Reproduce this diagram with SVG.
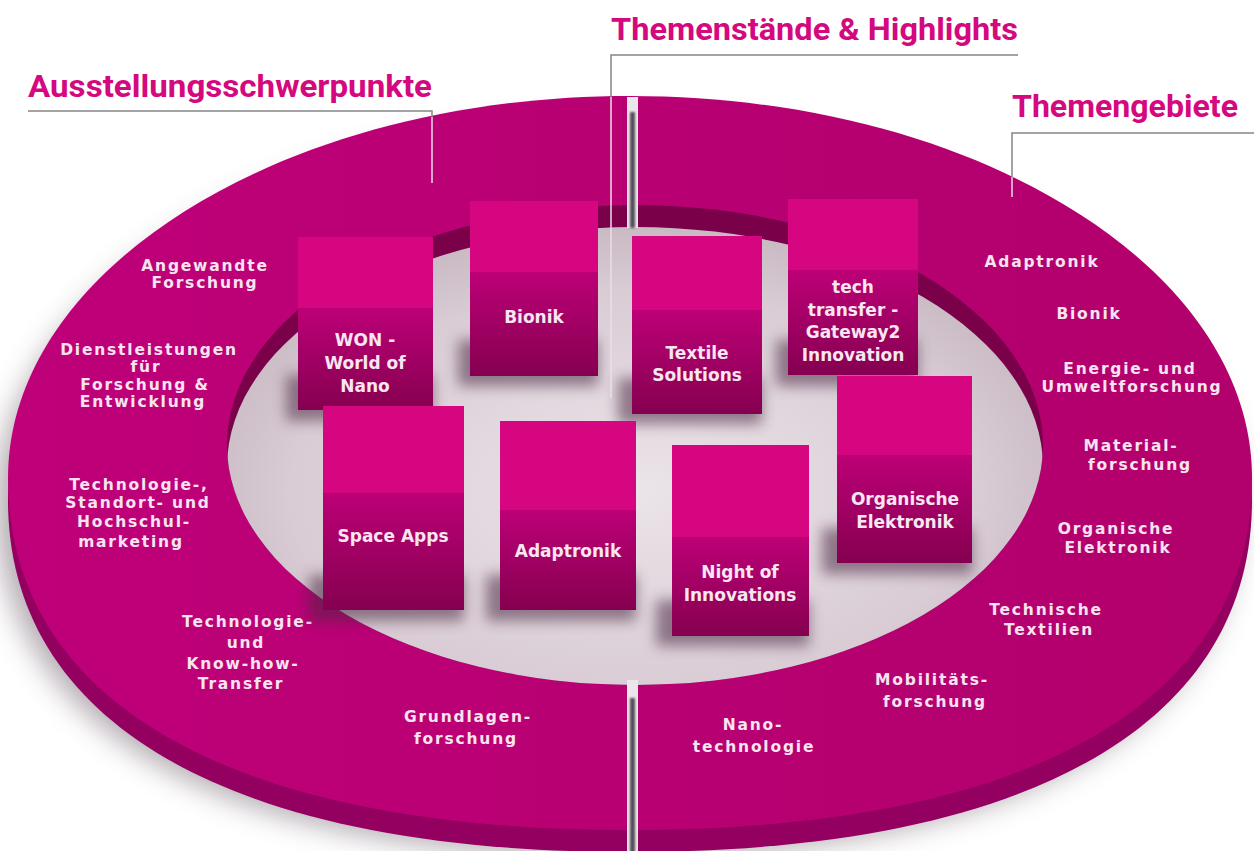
<svg xmlns="http://www.w3.org/2000/svg" width="1254" height="851" viewBox="0 0 1254 851">
<style>
.hd{font-family:Roboto,"DejaVu Sans Condensed","Liberation Sans",sans-serif;font-weight:bold;font-size:32px;fill:#d4087f}
.rl{font-family:"DejaVu Sans","Liberation Sans",sans-serif;font-weight:bold;font-size:15.5px;letter-spacing:1.8px;fill:#f7e4f0;text-anchor:middle}
.cl{font-family:"DejaVu Sans","Liberation Sans",sans-serif;font-weight:bold;font-size:17px;fill:#f8e6f1;text-anchor:middle}
.ct{fill:#d5067f}
.cf{fill:url(#gFront)}
.cs{fill:#4a2540;opacity:0.55;filter:url(#blurS)}
.ld{fill:none;stroke:#858585;stroke-width:1.5}
.ll{fill:none;stroke:#ecdde7;stroke-width:1.5}
.gw{fill:#ebe6ea}
.gd{fill:#55505a;filter:url(#blurT)}
</style>
<defs>
<linearGradient id="gFront" x1="0" y1="0" x2="0" y2="1">
<stop offset="0" stop-color="#bd0077"/>
<stop offset="1" stop-color="#850050"/>
</linearGradient>
<linearGradient id="gRing" x1="0" y1="0" x2="1" y2="0">
<stop offset="0" stop-color="#bf0079"/>
<stop offset="1" stop-color="#b2006c"/>
</linearGradient>
<radialGradient id="gFloor" cx="0.5" cy="0.55" r="0.6">
<stop offset="0" stop-color="#ebe4e9"/>
<stop offset="0.7" stop-color="#d9ccd5"/>
<stop offset="1" stop-color="#c2b2bc"/>
</radialGradient>
<filter id="blurL" x="-20%" y="-20%" width="140%" height="140%"><feGaussianBlur stdDeviation="14"/></filter>
<filter id="blurS" x="-30%" y="-50%" width="160%" height="200%"><feGaussianBlur stdDeviation="7"/></filter>
<filter id="blurT" x="-100%" y="-10%" width="300%" height="120%"><feGaussianBlur stdDeviation="1.2"/></filter>
<clipPath id="holeClip"><ellipse cx="635" cy="445" rx="408" ry="240"/></clipPath>
<path id="ringShape" d="M8 478 C8 267 286.5 96 630 96 C973.5 96 1252 267 1252 478 C1252 703 1028 830 630 830 C232 830 8 703 8 478 Z"/>
</defs>

<rect width="1254" height="851" fill="#ffffff"/>

<g id="ring">
<use href="#ringShape" transform="translate(-12,26)" fill="#6b5a66" opacity="0.5" filter="url(#blurL)"/>
<use href="#ringShape" transform="translate(0,22)" fill="#930060"/>
<use href="#ringShape" fill="url(#gRing)"/>
<ellipse cx="635" cy="445" rx="408" ry="240" fill="#7a004a"/>
<ellipse cx="635" cy="467" rx="408" ry="240" fill="url(#gFloor)" clip-path="url(#holeClip)"/>
<rect class="gw" x="627" y="97" width="11" height="131"/>
<rect class="gd" x="630" y="112" width="5" height="116"/>
<rect class="gw" x="627" y="680" width="11" height="171"/>
<rect class="gd" x="630" y="698" width="5" height="160"/>
</g>

<g id="ring-labels-left">
<text class="rl" x="205" y="271">Angewandte</text>
<text class="rl" x="205" y="288">Forschung</text>
<text class="rl" x="149" y="355">Dienstleistungen</text>
<text class="rl" x="146" y="372">für</text>
<text class="rl" x="145" y="390">Forschung &amp;</text>
<text class="rl" x="143" y="407">Entwicklung</text>
<text class="rl" x="139" y="490">Technologie-,</text>
<text class="rl" x="138" y="508">Standort- und</text>
<text class="rl" x="134" y="527">Hochschul-</text>
<text class="rl" x="131" y="547">marketing</text>
<text class="rl" x="248" y="627">Technologie-</text>
<text class="rl" x="246" y="648">und</text>
<text class="rl" x="243" y="669">Know-how-</text>
<text class="rl" x="241" y="689">Transfer</text>
<text class="rl" x="468" y="722">Grundlagen-</text>
<text class="rl" x="466" y="744">forschung</text>
</g>

<g id="ring-labels-right">
<text class="rl" x="1042" y="267">Adaptronik</text>
<text class="rl" x="1089" y="319">Bionik</text>
<text class="rl" x="1130" y="374">Energie- und</text>
<text class="rl" x="1132" y="392">Umweltforschung</text>
<text class="rl" x="1131" y="451">Material-</text>
<text class="rl" x="1140" y="470">forschung</text>
<text class="rl" x="1116" y="534">Organische</text>
<text class="rl" x="1118" y="553">Elektronik</text>
<text class="rl" x="1046" y="615">Technische</text>
<text class="rl" x="1049" y="635">Textilien</text>
<text class="rl" x="932" y="685">Mobilitäts-</text>
<text class="rl" x="935" y="707">forschung</text>
<text class="rl" x="753" y="730">Nano-</text>
<text class="rl" x="754" y="752">technologie</text>
</g>

<g id="cube-shadows">
<rect class="cs" x="458" y="340" width="140" height="46"/>
<rect class="cs" x="776" y="340" width="142" height="46"/>
<rect class="cs" x="286" y="375" width="147" height="46"/>
<rect class="cs" x="618" y="378" width="144" height="46"/>
<rect class="cs" x="822" y="528" width="150" height="46"/>
<rect class="cs" x="309" y="575" width="155" height="46"/>
<rect class="cs" x="486" y="575" width="150" height="46"/>
<rect class="cs" x="656" y="600" width="153" height="46"/>
</g>

<g id="cube-bionik">
<rect class="ct" x="470" y="201" width="128" height="72"/>
<rect class="cf" x="470" y="272" width="128" height="104"/>
<text class="cl" x="534" y="323">Bionik</text>
</g>
<g id="cube-techtransfer">
<rect class="ct" x="788" y="199" width="130" height="72"/>
<rect class="cf" x="788" y="270" width="130" height="105"/>
<text class="cl" x="853" y="293">tech</text>
<text class="cl" x="853" y="316">transfer -</text>
<text class="cl" x="853" y="338">Gateway2</text>
<text class="cl" x="853" y="361">Innovation</text>
</g>
<g id="cube-won">
<rect class="ct" x="298" y="237" width="135" height="72"/>
<rect class="cf" x="298" y="308" width="135" height="102"/>
<text class="cl" x="365" y="346">WON -</text>
<text class="cl" x="365" y="369">World of</text>
<text class="cl" x="365" y="392">Nano</text>
</g>
<g id="cube-textile">
<rect class="ct" x="632" y="236" width="130" height="75"/>
<rect class="cf" x="632" y="310" width="130" height="104"/>
<text class="cl" x="697" y="359">Textile</text>
<text class="cl" x="697" y="381">Solutions</text>
</g>
<g id="cube-organische">
<rect class="ct" x="837" y="376" width="135" height="80"/>
<rect class="cf" x="837" y="455" width="135" height="108"/>
<text class="cl" x="905" y="505">Organische</text>
<text class="cl" x="905" y="528">Elektronik</text>
</g>
<g id="cube-spaceapps">
<rect class="ct" x="323" y="406" width="141" height="88"/>
<rect class="cf" x="323" y="493" width="141" height="117"/>
<text class="cl" x="393" y="542">Space Apps</text>
</g>
<g id="cube-adaptronik">
<rect class="ct" x="500" y="421" width="136" height="90"/>
<rect class="cf" x="500" y="510" width="136" height="100"/>
<text class="cl" x="568" y="557">Adaptronik</text>
</g>
<g id="cube-night">
<rect class="ct" x="672" y="445" width="137" height="93"/>
<rect class="cf" x="672" y="537" width="137" height="99"/>
<text class="cl" x="740" y="578">Night of</text>
<text class="cl" x="740" y="601">Innovations</text>
</g>

<g id="connectors">
<path class="ld" d="M28 111 H432 V117"/>
<path class="ll" d="M432 117 V183"/>
<path class="ld" d="M1018 55 H611 V97"/>
<path class="ll" d="M611 97 V398"/>
<path class="ld" d="M1254 133 H1012 V177"/>
<path class="ll" d="M1012 177 V197"/>
</g>

<g id="headers">
<text class="hd" x="28" y="97" textLength="404" lengthAdjust="spacingAndGlyphs">Ausstellungsschwerpunkte</text>
<text class="hd" x="611" y="40" textLength="407" lengthAdjust="spacingAndGlyphs">Themenstände &amp; Highlights</text>
<text class="hd" x="1012" y="117" textLength="226" lengthAdjust="spacingAndGlyphs">Themengebiete</text>
</g>
</svg>
